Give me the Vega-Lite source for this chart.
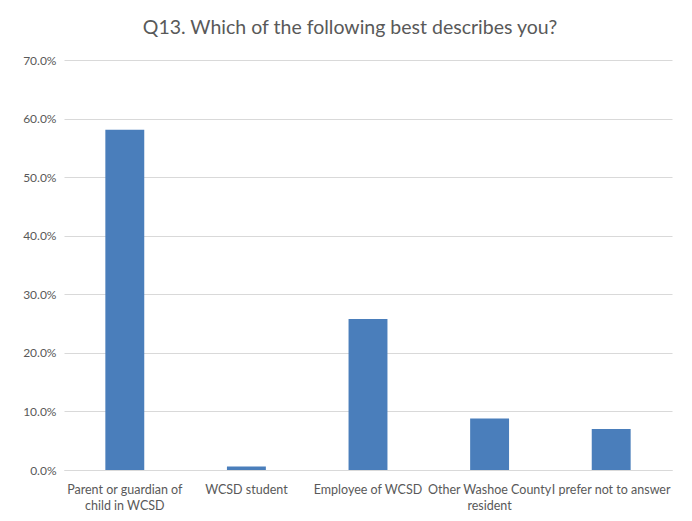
{
  "$schema": "https://vega.github.io/schema/vega-lite/v6.json",
  "autosize": {"type": "none"},
  "width": 608,
  "height": 410,
  "padding": {"left": 64, "top": 60, "right": 20, "bottom": 51},
  "background": "white",
  "title": {
    "text": "Q13. Which of the following best describes you?",
    "font": "Lato",
    "fontSize": 19.5,
    "fontWeight": "normal",
    "color": "#595959",
    "anchor": "middle",
    "frame": "group",
    "dx": -18,
    "offset": 16
  },
  "data": {
    "values": [
      {"category": "Parent or guardian of child in WCSD", "pct": 0.581},
      {"category": "WCSD student", "pct": 0.006},
      {"category": "Employee of WCSD", "pct": 0.258},
      {"category": "Other Washoe County resident", "pct": 0.088},
      {"category": "I prefer not to answer", "pct": 0.070}
    ]
  },
  "mark": {"type": "bar", "color": "#4a7ebb"},
  "encoding": {
    "x": {
      "field": "category",
      "type": "nominal",
      "sort": null,
      "scale": {"paddingInner": 0.68, "paddingOuter": 0.34},
      "axis": {
        "title": null,
        "labelAngle": 0,
        "labelFont": "Lato",
        "labelFontSize": 12.5,
        "labelColor": "#595959",
        "labelPadding": 13,
        "labelLineHeight": 16,
        "labelLimit": 0,
        "ticks": false,
        "domainColor": "#d9d9d9",
        "labelExpr": "datum.value == 'Parent or guardian of child in WCSD' ? ['Parent or guardian of', 'child in WCSD'] : datum.value == 'Other Washoe County resident' ? ['Other Washoe County', 'resident'] : datum.value"
      }
    },
    "y": {
      "field": "pct",
      "type": "quantitative",
      "scale": {"domain": [0, 0.7]},
      "axis": {
        "title": null,
        "format": ".1%",
        "values": [0, 0.1, 0.2, 0.3, 0.4, 0.5, 0.6, 0.7],
        "labelFont": "Lato",
        "labelFontSize": 12,
        "labelColor": "#595959",
        "labelPadding": 8,
        "ticks": false,
        "domain": false,
        "gridColor": "#d9d9d9",
        "gridWidth": 1
      }
    }
  },
  "config": {"view": {"stroke": null}}
}
